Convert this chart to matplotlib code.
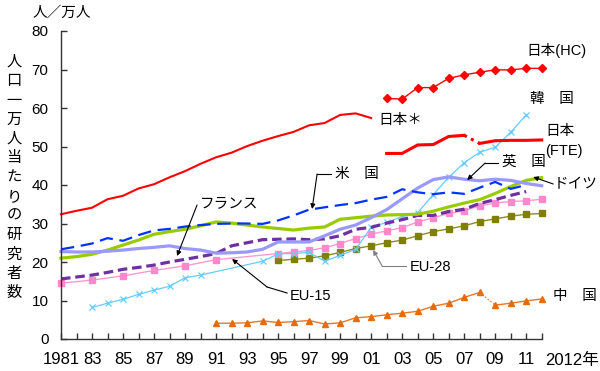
import matplotlib
matplotlib.use('Agg')
import matplotlib.pyplot as plt
import numpy as np

plt.rcParams['font.family'] = ['Liberation Sans', 'Noto Sans CJK JP']

# ---------------- data ----------------
jp_star_years = list(range(1981, 2002))
jp_star = [32.4, 33.3, 34.1, 36.3, 37.2, 39.1, 40.2, 42.0, 43.6, 45.5, 47.2,
           48.4, 50.1, 51.5, 52.7, 53.8, 55.5, 56.1, 58.2, 58.6, 57.4]

jp_hc_years = list(range(2002, 2013))
jp_hc = [62.5, 62.3, 65.3, 65.3, 67.7, 68.6, 69.3, 69.9, 69.9, 70.3, 70.3]

jp_fte_years = list(range(2002, 2013))
jp_fte = [48.2, 48.2, 50.4, 50.5, 52.6, 52.9, 50.8, 51.5, 51.6, 51.6, 51.7]
jp_fte_break = 2007  # dotted segment 2007-2008

kr_years = list(range(1983, 1991)) + list(range(1994, 2012))
korea = [8.2, 9.3, 10.3, 11.6, 12.7, 13.7, 15.9, 16.6,
         20.2, 22.1, 22.2, 22.5, 20.2, 21.7, 23.3, 29.0, 30.3, 31.8, 32.8,
         37.5, 42.0, 45.8, 48.5, 49.8, 53.7, 58.2]

us_years = list(range(1981, 2012))
usa = [23.3, 24.0, 24.8, 26.2, 25.5, 27.0, 28.2, 28.6, 29.2, 29.6, 29.9, 30.0,
       30.0, 29.9, 30.8, 32.1, 33.6, 34.2, 34.8, 35.3, 36.2, 36.9, 38.9, 38.1,
       37.6, 38.1, 37.7, 39.3, 40.8, 39.0, 40.0]

uk_years = list(range(1981, 2013))
uk = [22.7, 22.6, 22.6, 22.8, 23.1, 23.5, 23.8, 24.2, 23.5, 23.1, 22.3, 22.4,
      22.6, 23.3, 25.2, 25.2, 25.2, 26.8, 28.5, 29.6, 31.5, 33.6, 36.4, 39.2,
      41.4, 42.1, 41.5, 41.1, 41.5, 41.2, 40.4, 39.8]

de_years = list(range(1981, 2013))
germany = [21.0, 21.4, 22.0, 23.1, 24.4, 25.7, 27.2, 27.9, 28.5, 29.4, 30.4,
           30.1, 29.6, 29.1, 28.7, 28.3, 28.8, 29.1, 31.1, 31.5, 31.9, 32.2,
           32.3, 32.4, 33.2, 34.3, 35.3, 36.2, 37.8, 39.6, 41.2, 41.9]

fr_years = list(range(1981, 2012))
france = [15.6, 16.1, 16.6, 17.3, 18.1, 18.6, 19.2, 20.0, 20.7, 21.4, 22.2,
          24.2, 25.0, 25.8, 25.9, 26.0, 25.8, 26.0, 26.8, 28.5, 29.0, 30.1,
          31.0, 32.1, 32.1, 33.1, 33.7, 35.2, 36.2, 37.3, 38.3]

eu15_years = [1981, 1983, 1985, 1987, 1989, 1991] + list(range(1995, 2013))
eu15 = [14.5, 15.3, 16.4, 17.8, 19.0, 20.6,
        22.2, 22.6, 23.0, 23.7, 24.8, 26.1, 27.2, 28.1, 28.9, 30.4, 31.5,
        32.6, 33.3, 34.6, 35.3, 35.7, 35.9, 36.3]

eu28_years = list(range(1995, 2013))
eu28 = [20.4, 20.7, 21.0, 21.6, 22.5, 23.5, 24.2, 25.0, 25.7, 26.8, 27.9,
        28.6, 29.4, 30.5, 31.2, 31.9, 32.4, 32.6]

cn_years = list(range(1991, 2013))
china = [4.1, 4.1, 4.2, 4.7, 4.3, 4.5, 4.8, 3.9, 4.2, 5.5, 5.8, 6.3, 6.7, 7.2,
         8.5, 9.3, 10.8, 12.1, 8.8, 9.3, 9.9, 10.4]
cn_break = 2008  # dotted segment 2008-2009

tick_years = list(range(1981, 2013))
tick_labels = ['1981'] + [('%02d' % (y % 100)) if (y % 2 == 1) else '' for y in tick_years[1:]]
tick_labels[-1] = ''

# ---------------- figure ----------------
fig = plt.figure(figsize=(6, 3.71), dpi=100)
ax = fig.add_axes([61 / 600, 32 / 371, (541.7 - 61) / 600, 308 / 371])
ax.set_xlim(1981, 2012)
ax.set_ylim(0, 80)

def split_plot(xs, ys, brk, **kw):
    xs = np.array(xs); ys = np.array(ys)
    i = int(np.where(xs == brk)[0][0])
    ax.plot(xs[:i + 1], ys[:i + 1], **kw)
    ax.plot(xs[i + 1:], ys[i + 1:], **kw)
    kw2 = dict(kw); kw2['linestyle'] = (0, (1, 1.5)); kw2['marker'] = None
    ax.plot(xs[i:i + 2], ys[i:i + 2], **kw2)

red = '#FF0000'
# China
split_plot(cn_years, china, cn_break, color='#E8772E', lw=1.0, marker='^',
           ms=5, mfc='#E46C0A', mec='#E46C0A', clip_on=False)
# EU-28
ax.plot(eu28_years, eu28, color='#8C8C1E', lw=1.0, marker='s', ms=5,
        mfc='#808000', mec='#808000', clip_on=False)
# EU-15
ax.plot(eu15_years, eu15, color='#FF99CC', lw=1.0, marker='s', ms=5,
        mfc='#FF88CC', mec='#FF88CC', clip_on=False)
# Korea
ax.plot(kr_years, korea, color='#66CCFF', lw=0.9, marker='x', ms=4, mew=0.9,
        clip_on=False)
# France
ax.plot(fr_years, france, color='#7030A0', lw=2.3, linestyle=(0, (3, 1.5)),
        clip_on=False)
# Germany
ax.plot(de_years, germany, color='#99CC00', lw=2.3, clip_on=False)
# UK
ax.plot(uk_years, uk, color='#9999FF', lw=2.3, clip_on=False)
# USA
ax.plot(us_years, usa, color='#0033FF', lw=1.6, linestyle=(0, (6, 3)),
        clip_on=False)
# Japan
ax.plot(jp_star_years, jp_star, color=red, lw=1.5, clip_on=False)
ax.plot(jp_hc_years, jp_hc, color=red, lw=1.0, marker='D', ms=4.5,
        clip_on=False)
split_plot(jp_fte_years, jp_fte, jp_fte_break, color=red, lw=2.2,
           clip_on=False)

# axes styling
for s in ['top', 'right']:
    ax.spines[s].set_visible(False)
for s in ['left', 'bottom']:
    ax.spines[s].set_color('#333333')
    ax.spines[s].set_linewidth(1.0)
ax.set_xticks(tick_years)
ax.set_xticklabels(tick_labels)
ax.set_yticks(range(0, 81, 10))
ax.tick_params(axis='x', direction='in', length=4.5, width=1, color='#333333',
               labelsize=12, pad=9)
ax.tick_params(axis='y', direction='in', length=4.5, width=1, color='#333333',
               labelsize=11, pad=9)

# ---------------- text ----------------
def px(x, y):
    return (1981 + (x - 61) / 15.5, (339 - y) / 3.85)

fs = 10.5
def label(text, x, y, **kw):
    X, Y = px(x, y)
    ax.text(X, Y, text, fontsize=kw.pop('fontsize', fs), ha='left', va='center',
            clip_on=False, **kw)

def callout(path, color='black'):
    pts = [px(*p) for p in path]
    xs = [p[0] for p in pts[:-1]]; ys = [p[1] for p in pts[:-1]]
    if len(xs) > 1:
        ax.plot(xs, ys, color=color, lw=0.8, clip_on=False)
    ax.annotate('', xy=pts[-1], xytext=pts[-2],
                arrowprops=dict(arrowstyle='-|>', color=color, lw=0.8,
                                mutation_scale=7, shrinkA=0, shrinkB=0),
                annotation_clip=False)

label('日本(HC)', 526, 51)
label('韓　国', 530, 99)
label('日本＊', 378, 120)
label('日本', 545, 131)
label('(FTE)', 545, 151)
label('英　国', 502, 162)
callout([(498, 163), (485, 163), (467, 180)])
label('ドイツ', 554, 184)
callout([(553, 184), (533, 177)])
label('米　国', 335, 174)
callout([(331, 174), (317, 174), (312, 209)])
label('フランス', 200, 203)
callout([(197, 205), (177, 256)])
label('EU-15', 290, 296)
callout([(287, 293), (267, 287), (232, 259)])
label('EU-28', 410, 267)
callout([(406, 266), (382, 266), (373, 250)], color='#808080')
label('中　国', 553, 296)

fig.text(62 / 600, 1 - 13 / 371, '人／万人', fontsize=10.5, ha='center', va='center')
fig.text(572 / 600, 1 - 360 / 371, '2012年', fontsize=12, ha='center', va='center')

ylabel_chars = '人口一万人当たりの研究者数'
for yy, ch in zip(np.linspace(62, 293, len(ylabel_chars)), ylabel_chars):
    fig.text(14 / 600, 1 - yy / 371, ch, fontsize=11, ha='center', va='center')

fig.savefig('out.png', dpi=100)
